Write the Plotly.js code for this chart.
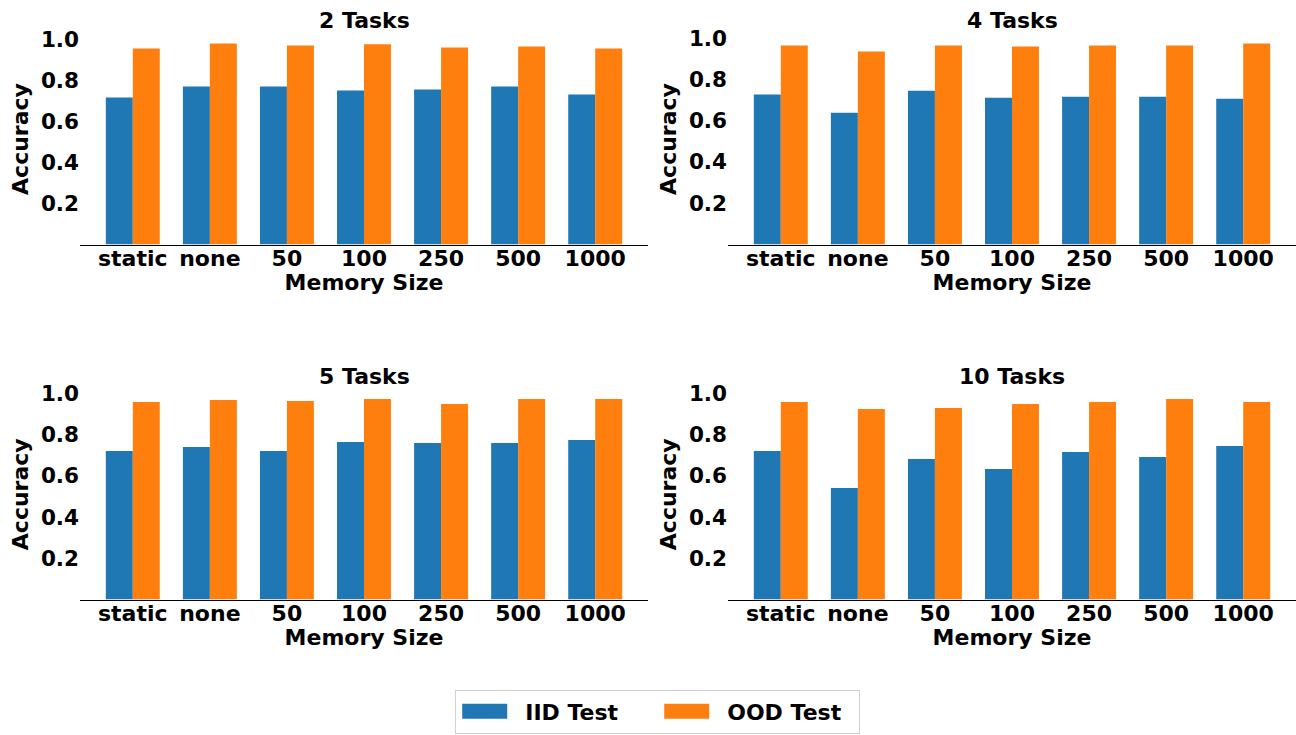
<!DOCTYPE html>
<html>
<head>
<meta charset="utf-8">
<script src="https://cdn.plot.ly/plotly-3.0.1.min.js"></script>
<style>html,body{margin:0;padding:0;background:#fff;}#chart{width:1296px;height:735px;}</style>
</head>
<body>
<div id="chart"></div>
<script>
// ---- data ----
const memorySizes = ["static", "none", "50", "100", "250", "500", "1000"];
const panelTitles = ["2 Tasks", "4 Tasks", "5 Tasks", "10 Tasks"];
const yTickVals = [0.2, 0.4, 0.6, 0.8, 1.0];
const yTickText = ["0.2", "0.4", "0.6", "0.8", "1.0"];

const iid2  = [0.717, 0.771, 0.771, 0.751, 0.756, 0.771, 0.732];
const ood2  = [0.956, 0.980, 0.971, 0.976, 0.961, 0.966, 0.956];
const iid4  = [0.726, 0.638, 0.745, 0.711, 0.716, 0.716, 0.706];
const ood4  = [0.964, 0.934, 0.964, 0.959, 0.964, 0.964, 0.973];
const iid5  = [0.721, 0.740, 0.721, 0.765, 0.760, 0.760, 0.774];
const ood5  = [0.959, 0.968, 0.964, 0.973, 0.949, 0.973, 0.973];
const iid10 = [0.721, 0.541, 0.682, 0.633, 0.716, 0.692, 0.745];
const ood10 = [0.959, 0.925, 0.930, 0.949, 0.959, 0.973, 0.959];

const iidSeries = [iid2, iid4, iid5, iid10];
const oodSeries = [ood2, ood4, ood5, ood10];

const BLUE = "#1f77b4", ORANGE = "#ff7f0e";
const FONT = "DejaVu Sans, Verdana, sans-serif";

const traces = [];
const layout = {
  width: 1296, height: 735,
  margin: {l: 0, r: 0, t: 0, b: 0},
  paper_bgcolor: "#ffffff", plot_bgcolor: "#ffffff",
  barmode: "group", bargap: 0.3, bargroupgap: 0,
  font: {family: FONT, size: 22, color: "#000", weight: "bold"},
  showlegend: true,
  legend: {
    orientation: "h", x: 0.5075, xanchor: "center", y: 0.002, yanchor: "bottom",
    bordercolor: "#d0d0d0", borderwidth: 1, bgcolor: "#ffffff",
    font: {family: FONT, size: 22, color: "#000", weight: "bold"},
    itemwidth: 60, entrywidth: 127
  },
  annotations: []
};

const xDomains = [[80/1296, 648/1296], [728/1296, 1.0], [80/1296, 648/1296], [728/1296, 1.0]];
const yDomains = [[(735-244.5)/735, (735-33.5)/735], [(735-244.5)/735, (735-33.5)/735],
                  [(735-599.5)/735, (735-389)/735], [(735-599.5)/735, (735-389)/735]];

for (let i = 0; i < 4; i++) {
  const sfx = i === 0 ? "" : String(i + 1);
  traces.push({
    type: "bar", name: "IID Test", x: memorySizes, y: iidSeries[i],
    xaxis: "x" + sfx, yaxis: "y" + sfx,
    marker: {color: BLUE, line: {width: 0}}, showlegend: i === 0, legendgroup: "iid",
    hoverinfo: "x+y"
  });
  traces.push({
    type: "bar", name: "OOD Test", x: memorySizes, y: oodSeries[i],
    xaxis: "x" + sfx, yaxis: "y" + sfx,
    marker: {color: ORANGE, line: {width: 0}}, showlegend: i === 0, legendgroup: "ood",
    hoverinfo: "x+y"
  });
  const ymax = Math.max(...iidSeries[i], ...oodSeries[i]) * 1.05;
  layout["xaxis" + sfx] = {
    domain: xDomains[i], anchor: "y" + sfx, type: "category",
    range: [-0.685, 6.685], showgrid: false, zeroline: false,
    showline: true, linecolor: "#000", linewidth: 1.6, ticks: "",
    ticklabelstandoff: -7,
    tickfont: {family: FONT, size: 22, color: "#000", weight: "bold"},
    title: {text: "Memory Size", standoff: 2,
            font: {family: FONT, size: 22, color: "#000", weight: "bold"}},
    fixedrange: true
  };
  layout["yaxis" + sfx] = {
    domain: yDomains[i], anchor: "x" + sfx,
    range: [0, ymax], showgrid: false, zeroline: false, showline: false,
    ticks: "", tickvals: yTickVals, ticktext: yTickText,
    tickfont: {family: FONT, size: 21.5, color: "#000", weight: "bold"},
    title: {text: "Accuracy", standoff: 6,
            font: {family: FONT, size: 22, color: "#000", weight: "bold"}},
    fixedrange: true
  };
  layout.annotations.push({
    text: panelTitles[i], showarrow: false,
    xref: "x" + sfx + " domain", yref: "y" + sfx + " domain",
    x: 0.5, y: 1, xanchor: "center", yanchor: "middle", yshift: 13,
    font: {family: FONT, size: 22, color: "#000", weight: "bold"}
  });
}

Plotly.newPlot("chart", traces, layout, {displayModeBar: false, staticPlot: true}).then(function (gd) {
  // widen the legend swatches to matplotlib-like patches (45 x 15 px, 18 px before the text)
  gd.querySelectorAll(".legend .traces").forEach(function (item) {
    const path = item.querySelector(".legendpoints path");
    const text = item.querySelector("text.legendtext");
    if (!path || !text) return;
    const pr = path.getBoundingClientRect();
    const tr = text.getBoundingClientRect();
    const cx = pr.left + pr.width / 2;
    const left = tr.left - 63 - cx;
    path.setAttribute("d", "M" + left + ",-7.5h45v15h-45Z");
  });
});
</script>
</body>
</html>
